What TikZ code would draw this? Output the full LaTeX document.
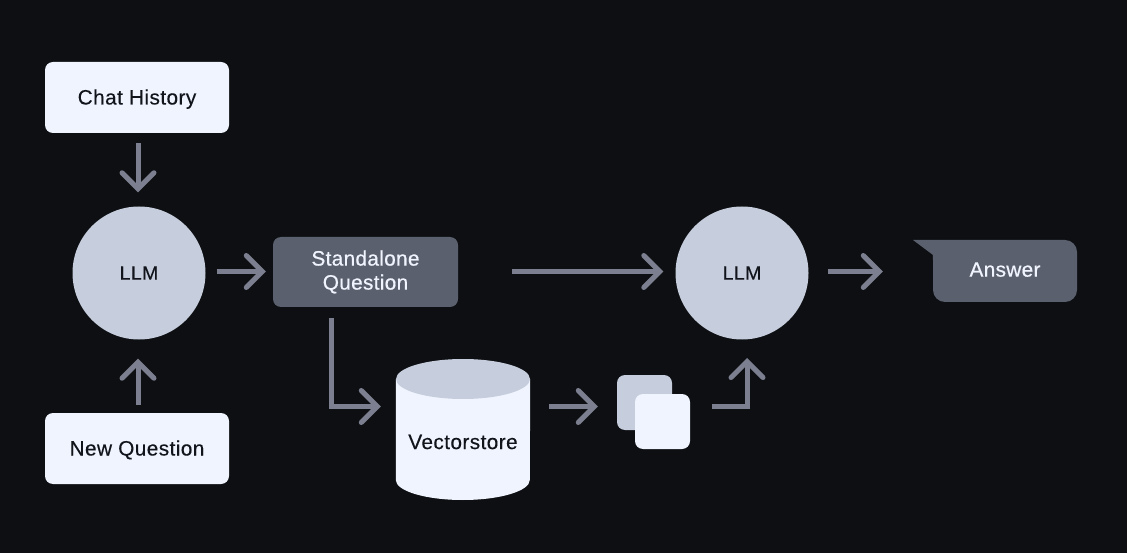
\documentclass[tikz,border=0pt]{standalone}
\usepackage{fontspec}
\setmainfont{Liberation Sans}
\newfontfamily\labelfont[FakeBold=0.25,LetterSpace=2]{Liberation Sans}
\newfontfamily\answerfont[FakeBold=0.6,LetterSpace=1.5]{Liberation Sans}
\usetikzlibrary{arrows.meta, positioning, calc}
\definecolor{bgdark}{HTML}{0D0F12}
\definecolor{boxlight}{HTML}{F0F4FE}
\definecolor{boxmid}{HTML}{C6CEDD}
\definecolor{boxdark}{HTML}{5B606E}
\definecolor{flowgrey}{HTML}{7B7F8F}
\definecolor{inkdark}{HTML}{11141A}
\newcommand{\lblsize}{\labelfont\fontsize{20.8}{24}\selectfont}
\newcommand{\llmsize}{\labelfont\fontsize{19.5}{24}\selectfont}
\newcommand{\darksize}{\answerfont\fontsize{20.8}{24}\selectfont}
\tikzset{
  inputbox/.style={fill=boxlight, rounded corners=8pt, minimum width=184pt, minimum height=71pt,
    text=inkdark, font=\lblsize, inner sep=0pt},
  llmnode/.style={circle, fill=boxmid, minimum size=133pt, text=inkdark, font=\llmsize, inner sep=0pt},
  darkbox/.style={fill=boxdark, rounded corners=8pt, text=boxlight, font=\darksize, inner sep=0pt, align=center},
  docsheet/.style={rounded corners=8pt, minimum size=55pt, inner sep=0pt},
  flow/.style={draw=flowgrey, line width=5pt, line cap=butt, line join=miter,
    -{Straight Barb[length=16pt,width=32pt,line cap=round]}},
}
\begin{document}
\begin{tikzpicture}[x=1pt, y=-1pt]
\useasboundingbox[fill=bgdark] (0,0) rectangle (1127,553);
% left column
\node[inputbox, text height=15pt, text depth=1pt] (chat) at (137,97.5) {Chat History};
\node[llmnode] (llmA) at (139,273) {\raisebox{-1pt}{LLM}};
\node[inputbox, text height=15pt, text depth=1pt] (newq) at (137,448.5) {New Question};
% middle
\node[darkbox, minimum width=185pt, minimum height=70pt] (standalone) at (365.5,272) {\raisebox{-2.5pt}{Standalone}\\[0pt]\raisebox{-2.5pt}{Question}};
\node[minimum width=134pt, minimum height=141pt, inner sep=0pt] (store) at (463,429.5) {};
\fill[boxlight] (store.west |- 0,379) -- (store.west |- 0,480) arc[start angle=180, end angle=360, x radius=67pt, y radius=20pt]
  -- (store.east |- 0,379) -- cycle;
\fill[boxmid] (463,379) ellipse[x radius=67pt, y radius=20pt];
\node[text=inkdark, font=\lblsize, inner sep=0pt] (storelabel) at (463,442) {Vectorstore};
% documents
\node[docsheet, fill=boxmid] (docback) at (644.5,402.5) {};
\node[docsheet, fill=boxlight] (docfront) at (662.5,421.5) {};
% right
\node[llmnode] (llmB) at (742,273) {\raisebox{-1pt}{LLM}};
\node[darkbox, rounded corners=12pt, minimum width=144pt, minimum height=62pt] (answer) at (1005,271) {\raisebox{3pt}{Answer}};
\fill[boxdark] (answer.north west) ++(-20,0) coordinate (tailtip) -- ++(32,0) -- ++(0,20) -- ++(-12,0) -- ++(0,-5) -- cycle;
% arrows
\coordinate (colA) at (138,273);
\coordinate (rowA) at (0,271.5);
\coordinate (turnA) at (331,406.5);
\coordinate (turnB) at (747,406.5);
\coordinate (llmBlow) at (747,339);
\draw[flow, shorten <=10pt, shorten >=14pt] (chat.south -| colA) -- (llmA.north -| colA);
\draw[flow, shorten <=8pt, shorten >=19pt] (newq.north -| colA) -- (llmA.south -| colA);
\draw[flow, shorten <=11pt, shorten >=7pt] (llmA.east |- rowA) -- (standalone.west |- rowA);
\draw[flow, shorten <=54pt, shorten >=12pt] (standalone.east |- rowA) -- (llmB.west |- rowA);
\draw[flow, shorten <=19pt, shorten >=50pt] (llmB.east |- rowA) -- (answer.west |- rowA);
\draw[flow, shorten <=11pt, shorten >=15pt] (standalone.south -| turnA) -- (turnA) -- (store.west |- turnA);
\draw[flow, shorten <=19pt, shorten >=19pt] (store.east |- turnA) -- (docback.west |- turnA);
\draw[flow, shorten <=22pt, shorten >=19pt] (docfront.east |- turnB) -- (turnB) -- (llmBlow);
\end{tikzpicture}
\end{document}
